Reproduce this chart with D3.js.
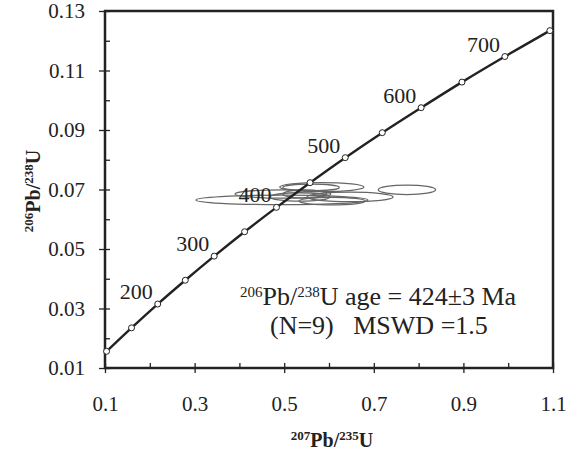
<!DOCTYPE html>
<meta charset="utf-8">
<script src="https://d3js.org/d3.v7.min.js"></script>
<style>
  body { margin: 0; background: #fff; }
</style>
<div id="my_dataviz"></div>
<script>

// concordia age markers (Ma) and their ratios
var ages      = [100, 150, 200, 250, 300, 350, 400, 450, 500, 550, 600, 650, 700, 750];
var pb207u235 = [0.1035, 0.1592, 0.2177, 0.2792, 0.3437, 0.4116, 0.4828, 0.5577, 0.6363, 0.7189, 0.8057, 0.8968, 0.9926, 1.0931];
var pb206u238 = [0.0156, 0.0235, 0.0315, 0.0395, 0.0476, 0.0558, 0.0640, 0.0723, 0.0807, 0.0891, 0.0975, 0.1061, 0.1147, 0.1234];
var labelAges = [200, 300, 400, 500, 600, 700];

// analyses: centres and half-axes of the error ellipses
var ellX  = [0.495, 0.497, 0.584, 0.560, 0.774, 0.647, 0.607, 0.546, 0.535];
var ellY  = [0.0665, 0.0685, 0.0708, 0.0707, 0.0699, 0.0675, 0.0661, 0.0685, 0.0675];
var ellRx = [0.192, 0.107, 0.094, 0.063, 0.064, 0.096, 0.074, 0.049, 0.067];
var ellRy = [0.0016, 0.0014, 0.0015, 0.0011, 0.0016, 0.0016, 0.0013, 0.0014, 0.0014];

var xTicks = [0.1, 0.3, 0.5, 0.7, 0.9, 1.1];
var xMinor = [0.2, 0.4, 0.6, 0.8, 1.0];
var yTicks = [0.01, 0.03, 0.05, 0.07, 0.09, 0.11, 0.13];
var yMinor = [0.02, 0.04, 0.06, 0.08, 0.10, 0.12];

var serif = "Liberation Serif, DejaVu Serif, serif";

var margin = {top: 11, right: 26, bottom: 84, left: 105},
    width = 579 - margin.left - margin.right,
    height = 452 - margin.top - margin.bottom;

var svgRoot = d3.select("#my_dataviz")
  .append("svg")
    .attr("width", 579)
    .attr("height", 452)
    .attr("font-family", serif);
var svg = svgRoot.append("g")
    .attr("transform", "translate(" + margin.left + "," + margin.top + ")");

var x = d3.scaleLinear().domain([0.1, 1.1]).range([0, width]);
var y = d3.scaleLinear().domain([0.01, 0.13]).range([height, 0]);

// minor ticks (inside only)
svg.append("g")
  .attr("transform", "translate(0," + height + ")")
  .call(d3.axisBottom(x).tickValues(xMinor).tickSizeInner(-5).tickSizeOuter(0).tickFormat(""))
  .call(function(g) { g.select(".domain").remove(); });
svg.append("g")
  .call(d3.axisLeft(y).tickValues(yMinor).tickSizeInner(-5).tickSizeOuter(0).tickFormat(""))
  .call(function(g) { g.select(".domain").remove(); });

// major ticks crossing the axis
var xAxis = svg.append("g")
  .attr("transform", "translate(0," + height + ")")
  .call(d3.axisBottom(x).tickValues(xTicks).tickSizeOuter(0).tickSize(5).tickPadding(23).tickFormat(d3.format(".1f")));
xAxis.selectAll(".tick line").attr("y1", -5);
var yAxis = svg.append("g")
  .call(d3.axisLeft(y).tickValues(yTicks).tickSizeOuter(0).tickSize(6).tickPadding(14).tickFormat(d3.format(".2f")));
yAxis.selectAll(".tick line").attr("x1", 5);

[xAxis, yAxis].forEach(function(a) {
  a.select(".domain").remove();
  a.selectAll("text").style("font-size", "21px");
});
svg.selectAll(".tick line").attr("stroke", "#222").attr("stroke-width", 1.3);

// frame
svg.append("rect")
  .attr("width", width).attr("height", height)
  .attr("fill", "none").attr("stroke", "#222").attr("stroke-width", 2.5);

// ellipses
svg.selectAll("ellipse.an")
  .data(ellX)
  .enter()
  .append("ellipse")
    .attr("class", "an")
    .attr("cx", function(d) { return x(d); })
    .attr("cy", function(d, i) { return y(ellY[i]); })
    .attr("rx", function(d, i) { return x(d + ellRx[i]) - x(d); })
    .attr("ry", function(d, i) { return y(ellY[i]) - y(ellY[i] + ellRy[i]); })
    .attr("fill", "none")
    .attr("stroke", "#666")
    .attr("stroke-width", 1.3);

// concordia
var pts = ages.map(function(a, i) { return [pb207u235[i], pb206u238[i], a]; });
svg.append("path")
  .datum(pts)
  .attr("fill", "none")
  .attr("stroke", "#222")
  .attr("stroke-width", 2.4)
  .attr("d", d3.line()
    .x(function(d) { return x(d[0]); })
    .y(function(d) { return y(d[1]); })
    .curve(d3.curveCatmullRom));

svg.selectAll("circle.age")
  .data(pts)
  .enter()
  .append("circle")
    .attr("class", "age")
    .attr("cx", function(d) { return x(d[0]); })
    .attr("cy", function(d) { return y(d[1]); })
    .attr("r", 3)
    .attr("fill", "#fff")
    .attr("stroke", "#222")
    .attr("stroke-width", 1);

svg.selectAll("text.age")
  .data(pts.filter(function(d) { return labelAges.indexOf(d[2]) >= 0; }))
  .enter()
  .append("text")
    .attr("class", "age")
    .attr("x", function(d) { return x(d[0]) - 5; })
    .attr("y", function(d) { return y(d[1]) - 5; })
    .attr("text-anchor", "end")
    .style("font-size", "22px")
    .text(function(d) { return d[2]; });

// annotation
var note = svg.append("text")
  .attr("x", 135).attr("y", 294)
  .style("font-size", "26px");
note.append("tspan").attr("baseline-shift", "super").style("font-size", "15px").text("206");
note.append("tspan").text("Pb/");
note.append("tspan").attr("baseline-shift", "super").style("font-size", "15px").text("238");
note.append("tspan").text("U age = 424\u00b13 Ma");
svg.append("text")
  .attr("x", 165).attr("y", 323)
  .style("font-size", "26px")
  .attr("xml:space", "preserve")
  .style("white-space", "pre")
  .text("(N=9)   MSWD =1.5");

// axis titles
var xt = svgRoot.append("text")
  .attr("x", margin.left + width / 2 + 3).attr("y", 447)
  .attr("text-anchor", "middle")
  .style("font-size", "20px").style("font-weight", "bold");
xt.append("tspan").attr("baseline-shift", "super").style("font-size", "13px").text("207");
xt.append("tspan").text("Pb/");
xt.append("tspan").attr("baseline-shift", "super").style("font-size", "13px").text("235");
xt.append("tspan").text("U");

var yt = svgRoot.append("text")
  .attr("transform", "translate(40,191) rotate(-90)")
  .attr("text-anchor", "middle")
  .style("font-size", "20px").style("font-weight", "bold");
yt.append("tspan").attr("baseline-shift", "super").style("font-size", "13px").text("206");
yt.append("tspan").text("Pb/");
yt.append("tspan").attr("baseline-shift", "super").style("font-size", "13px").text("238");
yt.append("tspan").text("U");

// the axes set their own family, so put the serif face on every label
svgRoot.selectAll("text").style("font-family", serif).style("fill", "#222");

</script>
